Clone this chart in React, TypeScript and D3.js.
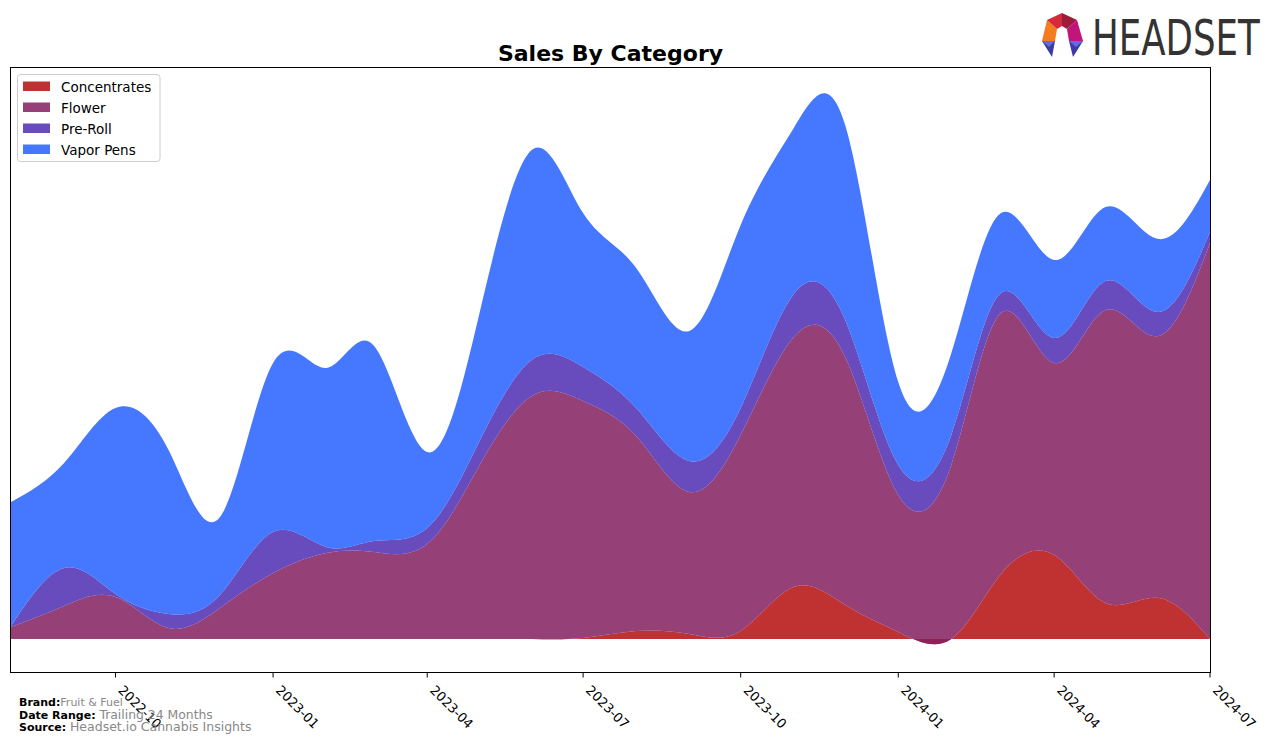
import React from 'react';
import * as d3 from 'd3';

// ---- Data (monthly) ----
const months = [
  '2022-08', '2022-09', '2022-10', '2022-11', '2022-12',
  '2023-01', '2023-02', '2023-03', '2023-04', '2023-05', '2023-06', '2023-07',
  '2023-08', '2023-09', '2023-10', '2023-11', '2023-12',
  '2024-01', '2024-02', '2024-03', '2024-04', '2024-05', '2024-06', '2024-07',
];
const categories = ['Concentrates', 'Flower', 'Pre-Roll', 'Vapor Pens'];
const concentrates = [0, 0, 0, 0, 0, 0, 0, 0, 0, 0, 0, 1, 8, 5, 8, 52, 34, 7, 0, 65, 84, 36, 41, 0];
const flower = [12, 33, 42, 11, 31, 66, 86, 87, 95, 172, 243, 237, 195, 142, 196, 250, 248, 137, 174, 261, 192, 293, 262, 396];
const preRoll = [1, 38, 3, 14, 13, 41, 6, 11, 16, 24, 36, 34, 28, 31, 27, 43, 37, 30, 30, 20, 25, 29, 24, 11];
const vaporPens = [124, 105, 186, 164, 78, 169, 179, 195, 76, 126, 210, 154, 140, 130, 183, 166, 195, 83, 82, 80, 78, 74, 73, 52];
const tickLabels = ['2022-10', '2023-01', '2023-04', '2023-07', '2023-10', '2024-01', '2024-04', '2024-07'];
const seriesColors = ['#b50e0e', '#83205f', '#4e2bb2', '#2560ff'];
const fillOpacity = 0.85;
const yDomain = [-33.5, 571.5];

const W = 1276;
const H = 743;
const plot = { left: 11, right: 1210, top: 67.5, bottom: 672.5 };

const parse = d3.timeParse('%Y-%m');

export default function App() {
  const dates = months.map((m) => parse(m) as Date);
  const x = d3.scaleTime().domain([dates[0], dates[dates.length - 1]]).range([plot.left, plot.right]);
  const y = d3.scaleLinear().domain(yDomain).range([plot.bottom, plot.top]);

  const rows = months.map((m, i) => ({
    date: dates[i],
    Concentrates: concentrates[i],
    Flower: flower[i],
    'Pre-Roll': preRoll[i],
    'Vapor Pens': vaporPens[i],
  }));
  const stack = d3.stack<any>().keys(categories);
  const layers = stack(rows);

  const area = d3
    .area<any>()
    .x((d) => x(d.data.date))
    .y0((d) => y(d[0]))
    .y1((d) => y(d[1]))
    .curve(d3.curveNatural);

  const tickDates = tickLabels.map((t) => parse(t) as Date);
  const fmt = d3.timeFormat('%Y-%m');
  const font = 'DejaVu Sans, sans-serif';

  return (
    <svg
      width={W}
      height={H}
      style={{ position: 'absolute', left: 0, top: 0, background: '#fff' }}
      fontFamily={font}
    >
      <defs>
        <clipPath id="plotClip">
          <rect x={plot.left} y={plot.top} width={plot.right - plot.left} height={plot.bottom - plot.top} />
        </clipPath>
      </defs>

      {/* Title */}
      <text x={(plot.left + plot.right) / 2} y={61} textAnchor="middle" fontSize={22} fontWeight="bold" fill="#000">
        Sales By Category
      </text>

      {/* Areas */}
      <g clipPath="url(#plotClip)">
        {layers.map((layer, i) => (
          <path key={categories[i]} d={area(layer as any) || ''} fill={seriesColors[i]} fillOpacity={fillOpacity} />
        ))}
      </g>

      {/* Frame */}
      <rect
        x={plot.left - 0.5}
        y={plot.top}
        width={plot.right - plot.left + 1}
        height={plot.bottom - plot.top}
        fill="none"
        stroke="#000"
        strokeWidth={1}
      />

      {/* X axis ticks */}
      {tickDates.map((d, i) => {
        const tx = x(d);
        return (
          <g key={tickLabels[i]}>
            <line x1={tx} x2={tx} y1={plot.bottom} y2={plot.bottom + 5} stroke="#000" strokeWidth={1} />
            <text
              transform={`translate(${tx + 2},${691}) rotate(45)`}
              fontSize={13}
              fill="#000"
              textAnchor="start"
            >
              {fmt(d)}
            </text>
          </g>
        );
      })}

      {/* Legend */}
      <g>
        <rect x={17.5} y={74.5} width={142.5} height={87} rx={3} ry={3} fill="#fff" fillOpacity={0.8} stroke="#ccc" strokeWidth={1} />
        {categories.map((c, i) => (
          <g key={c}>
            <rect x={23} y={81.5 + i * 21} width={27} height={9.5} fill={seriesColors[i]} fillOpacity={fillOpacity} />
            <text x={61} y={91.5 + i * 21} fontSize={13.5} fill="#000">
              {c}
            </text>
          </g>
        ))}
      </g>

      {/* Footer */}
      <g fontSize={11}>
        <text x={19} y={706}>
          <tspan fontWeight="bold" fill="#000">Brand:</tspan>
          <tspan fill="#888" fontSize={11}>Fruit &amp; Fuel</tspan>
        </text>
        <text x={19} y={719}>
          <tspan fontWeight="bold" fill="#000">Date Range: </tspan>
          <tspan fill="#888" fontSize={12.4}>Trailing 24 Months</tspan>
        </text>
        <text x={19} y={731}>
          <tspan fontWeight="bold" fill="#000">Source: </tspan>
          <tspan fill="#888" fontSize={12.5}>Headset.io Cannabis Insights</tspan>
        </text>
      </g>

      {/* Logo */}
      <g>
        <polygon points="1047,20 1057,29 1055,41 1042,41" fill="#f47b20" />
        <polygon points="1047,20 1062,13 1062,26 1057,29" fill="#d42a3c" />
        <polygon points="1062,13 1077,20 1067,29 1062,26" fill="#9e1b3c" />
        <polygon points="1077,20 1083,41 1069,41 1067,29" fill="#c0157a" />
        <polygon points="1042,41 1055,41 1052,57" fill="#3b3aa8" />
        <polygon points="1042,41 1055,41 1049,47" fill="#6d66dc" />
        <polygon points="1069,41 1083,41 1073,57" fill="#3b3aa8" />
        <polygon points="1069,41 1083,41 1076,47" fill="#6d66dc" />
        <text
          transform="translate(1092,55) scale(0.712,1)"
          x={0}
          y={0}
          fontSize={50}
          fill="#333"
          fontFamily="DejaVu Sans, sans-serif"
        >
          HEADSET
        </text>
      </g>
    </svg>
  );
}
